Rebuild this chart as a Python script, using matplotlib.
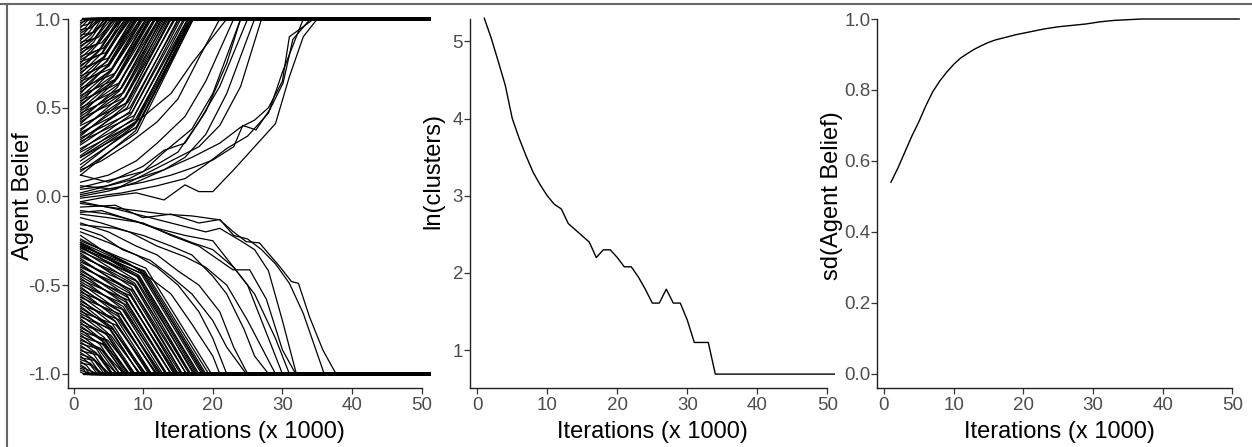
import matplotlib
matplotlib.use("Agg")
import matplotlib.pyplot as plt
from matplotlib.lines import Line2D

plt.rcParams['font.family'] = ['Liberation Sans', 'DejaVu Sans']
plt.rcParams['axes.unicode_minus'] = False

# ---- panel 1 : agent beliefs ----
# fast agents: belief at iteration 1, iteration where they reach +1 / -1,
# and how far the path sags below the straight chord half way
up_start = [0.99, 0.98, 0.97, 0.96, 0.95, 0.94, 0.93, 0.92, 0.91, 0.90,
            0.89, 0.88, 0.87, 0.86, 0.85, 0.84, 0.83, 0.82, 0.81, 0.80,
            0.79, 0.78, 0.77, 0.76, 0.75, 0.74, 0.73, 0.72, 0.71, 0.70,
            0.69, 0.68, 0.67, 0.66, 0.65, 0.64, 0.63, 0.62, 0.61, 0.60,
            0.59, 0.58, 0.57, 0.56, 0.55, 0.54, 0.53, 0.52, 0.51, 0.50,
            0.49, 0.48, 0.47, 0.46, 0.45, 0.44, 0.43, 0.42, 0.41, 0.40,
            0.38, 0.37, 0.36, 0.35, 0.34, 0.33, 0.32, 0.31, 0.30, 0.29,
            0.27, 0.26, 0.25, 0.23, 0.22, 0.20, 0.18, 0.16, 0.14, 0.12]
up_hit = [1.4, 2.5, 1.8, 3.2, 2.2, 4.0, 2.6, 3.5, 5.0, 3.0,
          4.6, 3.6, 6.0, 4.0, 5.4, 4.4, 7.0, 5.0, 6.2, 4.8,
          7.5, 5.6, 6.8, 8.2, 5.8, 7.4, 6.4, 9.0, 6.6, 8.0,
          7.0, 9.6, 7.6, 8.6, 10.4, 7.8, 9.2, 8.4, 11.0, 9.0,
          10.0, 8.8, 11.6, 9.6, 10.6, 12.2, 9.8, 11.2, 10.4, 12.8,
          10.8, 11.8, 13.4, 11.0, 12.4, 14.0, 11.6, 13.0, 12.2, 14.6,
          13.6, 12.6, 15.2, 14.0, 13.2, 15.8, 14.4, 16.4, 13.8, 15.0,
          16.8, 15.4, 17.0, 16.0, 17.2, 16.6, 17.0, 16.4, 17.2, 16.8]
up_sag = [0.00, 0.00, 0.00, 0.01, 0.00, 0.02, 0.01, 0.01, 0.03, 0.01,
          0.02, 0.01, 0.04, 0.02, 0.03, 0.02, 0.05, 0.02, 0.04, 0.03,
          0.06, 0.03, 0.05, 0.07, 0.02, 0.06, 0.04, 0.08, 0.03, 0.06,
          0.04, 0.09, 0.05, 0.07, 0.10, 0.04, 0.08, 0.05, 0.11, 0.06,
          0.08, 0.05, 0.12, 0.07, 0.09, 0.13, 0.06, 0.10, 0.08, 0.14,
          0.09, 0.11, 0.15, 0.08, 0.12, 0.16, 0.10, 0.13, 0.11, 0.17,
          0.14, 0.12, 0.18, 0.15, 0.13, 0.19, 0.16, 0.20, 0.14, 0.17,
          0.20, 0.17, 0.21, 0.18, 0.22, 0.19, 0.20, 0.18, 0.21, 0.19]
down_start = [-0.99, -0.98, -0.97, -0.96, -0.95, -0.94, -0.93, -0.92, -0.91, -0.90,
              -0.89, -0.88, -0.87, -0.86, -0.85, -0.84, -0.83, -0.82, -0.81, -0.80,
              -0.79, -0.78, -0.77, -0.76, -0.75, -0.74, -0.73, -0.72, -0.71, -0.70,
              -0.69, -0.68, -0.67, -0.66, -0.65, -0.64, -0.63, -0.62, -0.61, -0.60,
              -0.59, -0.58, -0.57, -0.56, -0.55, -0.54, -0.53, -0.52, -0.51, -0.50,
              -0.49, -0.48, -0.47, -0.46, -0.45, -0.44, -0.43, -0.42, -0.41, -0.40,
              -0.39, -0.38, -0.37, -0.36, -0.35, -0.34, -0.33, -0.32, -0.31, -0.30,
              -0.29, -0.29, -0.28, -0.28, -0.27, -0.27, -0.26, -0.26, -0.25, -0.24]
down_hit = [1.5, 2.6, 1.9, 3.4, 2.3, 4.2, 2.8, 3.8, 5.2, 3.4,
            4.8, 3.9, 6.2, 4.4, 5.6, 4.8, 7.2, 5.4, 6.6, 5.6,
            8.0, 6.2, 7.4, 8.8, 6.6, 8.0, 7.2, 9.6, 7.6, 8.6,
            7.8, 10.4, 8.4, 9.4, 11.2, 8.8, 10.0, 9.4, 12.0, 10.0,
            11.0, 10.2, 12.6, 10.8, 11.8, 13.4, 11.2, 12.4, 11.8, 14.0,
            12.2, 13.2, 14.8, 12.8, 14.0, 15.4, 13.4, 14.6, 14.0, 16.2,
            15.0, 14.4, 16.8, 15.6, 15.0, 17.4, 16.2, 15.6, 18.0, 16.6,
            17.6, 18.8, 16.8, 19.4, 17.8, 18.4, 19.0, 17.2, 19.8, 18.6]
down_sag = [0.00, 0.00, 0.01, 0.00, 0.01, 0.02, 0.01, 0.02, 0.03, 0.01,
            0.03, 0.02, 0.04, 0.02, 0.04, 0.03, 0.05, 0.03, 0.05, 0.04,
            0.06, 0.03, 0.05, 0.07, 0.04, 0.06, 0.05, 0.08, 0.04, 0.07,
            0.05, 0.09, 0.06, 0.08, 0.10, 0.05, 0.08, 0.07, 0.11, 0.06,
            0.09, 0.07, 0.12, 0.08, 0.10, 0.13, 0.08, 0.11, 0.09, 0.14,
            0.10, 0.12, 0.15, 0.10, 0.13, 0.16, 0.11, 0.14, 0.12, 0.17,
            0.15, 0.13, 0.18, 0.15, 0.14, 0.19, 0.17, 0.15, 0.20, 0.16,
            0.19, 0.21, 0.17, 0.22, 0.19, 0.20, 0.21, 0.18, 0.22, 0.20]

# slow agents near the middle, traced vertex by vertex
slow_x = [
    [1, 5, 10, 14, 17, 20, 22],
    [1, 4, 8, 12, 15, 18, 21],
    [1, 5, 9, 12, 16, 19, 23],
    [1, 6, 10, 13, 17, 20, 24],
    [1, 4, 8, 12, 15, 18, 21, 25],
    [1, 5, 9, 13, 16, 19, 22, 26],
    [1, 6, 10, 14, 18, 21, 24, 27],
    [1, 5, 10, 13, 16, 19, 22, 24],
    [1, 5, 9, 13, 16, 18, 20, 23, 26, 29, 31, 33, 35],
    [1, 6, 10, 14, 17, 20, 23, 24.3, 26.2, 28.2, 30.1, 31.5, 34],
    [1, 5, 9, 13, 17, 21, 24, 26, 28, 30, 31, 34.5],
    [1, 7, 12, 16, 19, 22, 25, 28, 30, 33],
    [1, 5, 9, 13, 17, 21, 22.9, 24.8, 26.7, 29.6, 31.3, 32.3, 33.9, 35.8, 37.7],
    [1, 6, 10, 14, 18, 21, 23, 25, 27, 29, 31, 33, 36],
    [1, 5, 10, 14, 18, 22.9, 25.3, 27.7, 30, 31.9],
    [1, 5, 9, 13, 17, 20, 23, 26, 29, 31],
    [1, 4, 8, 12, 16, 19, 22, 25, 27, 29],
    [1, 5, 9, 12, 15, 18, 21, 23, 25],
    [1, 4, 7, 11, 14, 17, 20, 22, 24.8],
    [1, 5, 9, 12, 15, 18, 20, 22],
    [1, 4, 8, 11, 14, 17, 20, 21],
    [1, 6, 11, 15, 19, 21, 24, 26, 28, 30, 32],
    [1, 4, 8, 12, 16, 20, 22, 25, 28, 30],
    [1, 6, 10, 14, 17, 20, 22, 24.5, 26, 28],
]
slow_y = [
    [0.22, 0.32, 0.45, 0.58, 0.75, 0.90, 1.0],
    [0.15, 0.20, 0.30, 0.42, 0.55, 0.78, 1.0],
    [0.08, 0.12, 0.20, 0.30, 0.45, 0.65, 1.0],
    [0.05, 0.10, 0.14, 0.25, 0.38, 0.58, 1.0],
    [0.02, 0.05, 0.10, 0.18, 0.25, 0.42, 0.62, 1.0],
    [0.00, 0.03, 0.08, 0.15, 0.22, 0.35, 0.58, 1.0],
    [0.06, 0.04, 0.12, 0.20, 0.28, 0.40, 0.62, 1.0],
    [0.12, 0.08, 0.17, 0.26, 0.30, 0.48, 0.75, 1.0],
    [-0.03, 0.00, 0.02, -0.02, 0.065, 0.027, 0.027, 0.15, 0.28, 0.41, 0.675, 0.90, 1.0],
    [0.01, 0.05, 0.08, 0.12, 0.16, 0.205, 0.28, 0.40, 0.375, 0.49, 0.64, 0.885, 1.0],
    [0.04, 0.06, 0.10, 0.15, 0.22, 0.30, 0.39, 0.43, 0.50, 0.65, 0.90, 1.0],
    [-0.01, 0.02, 0.06, 0.10, 0.18, 0.27, 0.34, 0.47, 0.70, 1.0],
    [-0.04, -0.06, -0.08, -0.10, -0.11, -0.132, -0.198, -0.255, -0.262, -0.395, -0.48, -0.49, -0.68, -0.865, -1.0],
    [-0.06, -0.05, -0.12, -0.10, -0.15, -0.13, -0.22, -0.24, -0.30, -0.38, -0.49, -0.66, -1.0],
    [-0.10, -0.12, -0.15, -0.22, -0.28, -0.414, -0.414, -0.58, -0.865, -1.0],
    [-0.08, -0.10, -0.14, -0.20, -0.26, -0.30, -0.40, -0.55, -0.80, -1.0],
    [-0.12, -0.15, -0.20, -0.28, -0.34, -0.40, -0.50, -0.70, -0.85, -1.0],
    [-0.15, -0.20, -0.28, -0.33, -0.42, -0.50, -0.65, -0.85, -1.0],
    [-0.18, -0.22, -0.30, -0.36, -0.45, -0.55, -0.70, -0.85, -1.0],
    [-0.20, -0.26, -0.33, -0.40, -0.50, -0.65, -0.80, -1.0],
    [-0.22, -0.30, -0.38, -0.46, -0.55, -0.72, -0.90, -1.0],
    [-0.03, -0.07, -0.12, -0.16, -0.20, -0.18, -0.25, -0.30, -0.42, -0.70, -1.0],
    [-0.09, -0.08, -0.13, -0.18, -0.22, -0.25, -0.35, -0.50, -0.80, -1.0],
    [-0.16, -0.18, -0.22, -0.28, -0.33, -0.45, -0.55, -0.75, -0.90, -1.0],
]
last_iter = 51

# ---- panel 2 : ln(number of clusters) ----
iters = list(range(1, 52))
ln_clusters = [5.30, 5.04, 4.74, 4.43, 4.00, 3.74, 3.51, 3.30, 3.14, 3.00,
               2.89, 2.83, 2.64, 2.56, 2.48, 2.40, 2.20, 2.30, 2.30, 2.20,
               2.08, 2.08, 1.95, 1.79, 1.61, 1.61, 1.79, 1.61, 1.61, 1.39,
               1.10, 1.10, 1.10, 0.69, 0.69, 0.69, 0.69, 0.69, 0.69, 0.69,
               0.69, 0.69, 0.69, 0.69, 0.69, 0.69, 0.69, 0.69, 0.69, 0.69, 0.69]

# ---- panel 3 : sd of agent belief ----
sd_belief = [0.540, 0.580, 0.625, 0.670, 0.710, 0.755, 0.795, 0.825, 0.850, 0.872,
             0.890, 0.903, 0.915, 0.925, 0.934, 0.941, 0.946, 0.951, 0.956, 0.960,
             0.964, 0.968, 0.972, 0.975, 0.978, 0.980, 0.982, 0.984, 0.986, 0.989,
             0.992, 0.994, 0.996, 0.997, 0.998, 0.999, 1.0, 1.0, 1.0, 1.0,
             1.0, 1.0, 1.0, 1.0, 1.0, 1.0, 1.0, 1.0, 1.0, 1.0, 1.0]

W, H = 1252, 447
fig = plt.figure(figsize=(W / 100, H / 100), dpi=100)


def px_axes(left, right, top, bottom):
    return fig.add_axes([left / W, 1 - bottom / H, (right - left) / W, (bottom - top) / H])


def style(ax, xlim, ylim, yticks, yfmt, ylabel, label_x, label_y):
    ax.set_xlim(*xlim)
    ax.set_ylim(*ylim)
    for s in ['top', 'right']:
        ax.spines[s].set_visible(False)
    ax.spines['left'].set_bounds(ylim[0], yticks[-1])
    ax.spines['bottom'].set_bounds(xlim[0], 50)
    for s in ['left', 'bottom']:
        ax.spines[s].set_linewidth(1.0)
        ax.spines[s].set_color('#222222')
    ax.set_xticks([0, 10, 20, 30, 40, 50])
    ax.set_yticks(yticks)
    ax.set_yticklabels([yfmt.format(v) for v in yticks])
    ax.tick_params(axis='both', direction='out', length=4, width=0.9,
                   color='#333333', labelcolor='#4d4d4d', labelsize=13.5)
    ax.tick_params(axis='y', pad=1)
    ax.tick_params(axis='x', pad=2.5)
    ax.set_xlabel('Iterations (x 1000)', fontsize=17, labelpad=5)
    ax.set_ylabel(ylabel, fontsize=17)
    ax.yaxis.set_label_coords(label_x, label_y)


# panel 1
ax1 = px_axes(68, 430, 19, 388)
for s, h, g in zip(up_start, up_hit, up_sag):
    ax1.plot([1, (1 + h) / 2, h], [s, (s + 1) / 2 - g, 1.0],
             color='black', lw=0.9, clip_on=False)
    ax1.plot([h, last_iter], [1.0, 1.0], color='black', lw=1.7, clip_on=False)
for s, h, g in zip(down_start, down_hit, down_sag):
    ax1.plot([1, (1 + h) / 2, h], [s, (s - 1) / 2 + g, -1.0],
             color='black', lw=0.9, clip_on=False)
    ax1.plot([h, last_iter], [-1.0, -1.0], color='black', lw=1.7, clip_on=False)
for xs, ys in zip(slow_x, slow_y):
    ax1.plot(xs, ys, color='black', lw=0.9, clip_on=False)
    ax1.plot([xs[-1], last_iter], [ys[-1], ys[-1]], color='black', lw=1.7, clip_on=False)
style(ax1, (-0.8, 51.2), (-1.08, 1.0), [-1.0, -0.5, 0.0, 0.5, 1.0], '{:.1f}',
      'Agent Belief', -0.094, 0.52)

# panel 2
ax2 = px_axes(470, 835.7, 19, 388)
ax2.plot(iters, ln_clusters, color='black', lw=1.0, clip_on=False)
style(ax2, (-1.04, 51.2), (0.51, 5.29), [1, 2, 3, 4, 5], '{:d}',
      'ln(clusters)', -0.071, 0.588)
ax2.spines['left'].set_bounds(0.51, 5.29)

# panel 3
ax3 = px_axes(877.3, 1240.6, 19, 388)
ax3.plot(iters, sd_belief, color='black', lw=1.0, clip_on=False)
style(ax3, (-0.96, 51.2), (-0.04, 1.0), [0.0, 0.2, 0.4, 0.6, 0.8, 1.0], '{:.1f}',
      'sd(Agent Belief)', -0.094, 0.52)

# grey frame edges of the original image
fig.add_artist(Line2D([0, 1], [1 - 4 / H, 1 - 4 / H], color='#666666', lw=1.5))
fig.add_artist(Line2D([6.5 / W, 6.5 / W], [0, 1 - 4 / H], color='#666666', lw=1.5))

fig.savefig('out.png', dpi=100)
